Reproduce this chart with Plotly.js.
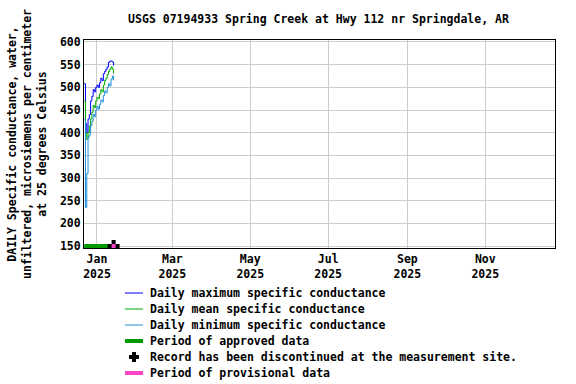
<!DOCTYPE html>
<html>
<head>
<meta charset="utf-8">
<script src="https://cdn.plot.ly/plotly-3.0.1.min.js"></script>
<style>html,body{margin:0;padding:0;background:#fff;}</style>
</head>
<body>
<div id="chart" style="width:576px;height:384px;"></div>
<script>
const dates = ["2024-12-22","2024-12-23","2024-12-24","2024-12-25","2024-12-26","2024-12-27","2024-12-28","2024-12-29","2024-12-30","2024-12-31","2025-01-01","2025-01-02","2025-01-03","2025-01-04","2025-01-05","2025-01-06","2025-01-07","2025-01-08","2025-01-09","2025-01-10","2025-01-11","2025-01-12","2025-01-13","2025-01-14"];
const maxVals  = [508, 420, 400, 430, 440, 470, 480, 495, 490, 500, 505, 500, 510, 520, 515, 530, 535, 540, 545, 555, 558, 558, 556, 548];
const meanVals = [470, 400, 385, 400, 415, 430, 445, 460, 455, 470, 478, 475, 485, 495, 490, 505, 515, 520, 528, 535, 540, 545, 540, 530];
const minVals  = [430, 235, 310, 390, 395, 415, 425, 440, 435, 450, 458, 452, 462, 472, 468, 482, 492, 488, 500, 508, 503, 518, 525, 515];
const approvedDates = ["2024-12-22", "2025-01-14"];
const approvedVals = [150, 150];
const discontinuedDate = ["2025-01-14"];
const discontinuedVal = [150];
const xRange = ["2024-12-21 20:00", "2025-12-25 14:00"];
const yRange = [145.6, 604.4];
const legendLabels = ["Daily maximum specific conductance", "Daily mean specific conductance", "Daily minimum specific conductance", "Period of approved data", "Record has been discontinued at the measurement site.", "Period of provisional data"];

const cMax = "#0000ff", cMean = "#00aa00", cMin = "#1e8fd8", cAppr = "#009900", cProv = "#ff44cc";
const F = {family: "DejaVu Sans Mono, monospace", size: 11.5, color: "#000", weight: "bold"};

const traces = [
  {x: dates, y: maxVals, mode: "lines", line: {color: cMax, width: 1, shape: "hv"}, name: legendLabels[0]},
  {x: dates, y: meanVals, mode: "lines", line: {color: cMean, width: 1, shape: "hv"}, name: legendLabels[1]},
  {x: dates, y: minVals, mode: "lines", line: {color: cMin, width: 1, shape: "hv"}, name: legendLabels[2]},
  {x: approvedDates, y: approvedVals, mode: "lines", line: {color: cAppr, width: 4}, name: legendLabels[3]},
  {x: discontinuedDate, y: discontinuedVal, mode: "markers", marker: {symbol: "cross", size: 10, color: "#000", line: {width: 0}}, name: legendLabels[4]},
  {x: discontinuedDate, y: discontinuedVal, mode: "markers", marker: {symbol: "square", size: 4, color: cProv, line: {width: 0}}, name: legendLabels[5]}
];

// manual legend (pixel -> paper conversion)
const plotL = 84, plotW = 471, plotB = 248, plotH = 208;
const px = v => (v - plotL) / plotW;
const py = v => (plotB - v) / plotH;
const rowY = [293, 309, 325, 341, 357, 373];
const sampleStyles = [
  {color: cMax, width: 1}, {color: cMean, width: 1}, {color: cMin, width: 1},
  {color: cAppr, width: 4}, null, {color: cProv, width: 4}
];
const shapes = [];
const annotations = [];
rowY.forEach((y, i) => {
  annotations.push({xref: "paper", yref: "paper", x: px(148), y: py(y), xanchor: "left", yanchor: "middle", text: legendLabels[i], showarrow: false, font: F});
  if (sampleStyles[i]) {
    shapes.push({type: "line", xref: "paper", yref: "paper", x0: px(125), x1: px(143), y0: py(y), y1: py(y), line: sampleStyles[i]});
  } else {
    shapes.push({type: "rect", xref: "paper", yref: "paper", xsizemode: "pixel", ysizemode: "pixel", xanchor: px(134), yanchor: py(y), x0: -5, x1: 5, y0: -2, y1: 2, fillcolor: "#000", line: {width: 0}});
    shapes.push({type: "rect", xref: "paper", yref: "paper", xsizemode: "pixel", ysizemode: "pixel", xanchor: px(134), yanchor: py(y), x0: -2, x1: 2, y0: -5, y1: 5, fillcolor: "#000", line: {width: 0}});
  }
});

const layout = {
  width: 576, height: 384,
  margin: {l: 84, r: 21, t: 40, b: 136},
  paper_bgcolor: "#fff", plot_bgcolor: "#fff",
  font: F,
  showlegend: false,
  title: {text: "USGS 07194933 Spring Creek at Hwy 112 nr Springdale, AR", font: F, x: 0.553, xanchor: "center", y: 0.95, yanchor: "middle"},
  xaxis: {
    type: "date", range: xRange, dtick: "M2", tick0: "2025-01-01", tickformat: "%b<br>%Y",
    showgrid: true, gridcolor: "#cccccc", gridwidth: 1,
    showline: true, linecolor: "#000", linewidth: 1, mirror: true,
    ticks: "", tickfont: F, zeroline: false
  },
  yaxis: {
    range: yRange, dtick: 50, tick0: 150,
    showgrid: true, gridcolor: "#cccccc", gridwidth: 1,
    showline: true, linecolor: "#000", linewidth: 1, mirror: true,
    ticks: "", tickfont: F, zeroline: false,
    title: {text: "DAILY Specific conductance, water,<br>unfiltered, microsiemens per centimeter<br>at 25 degrees Celsius", font: F, standoff: 10}
  },
  shapes: shapes,
  annotations: annotations
};

Plotly.newPlot("chart", traces, layout, {staticPlot: true, displayModeBar: false});
</script>
</body>
</html>
